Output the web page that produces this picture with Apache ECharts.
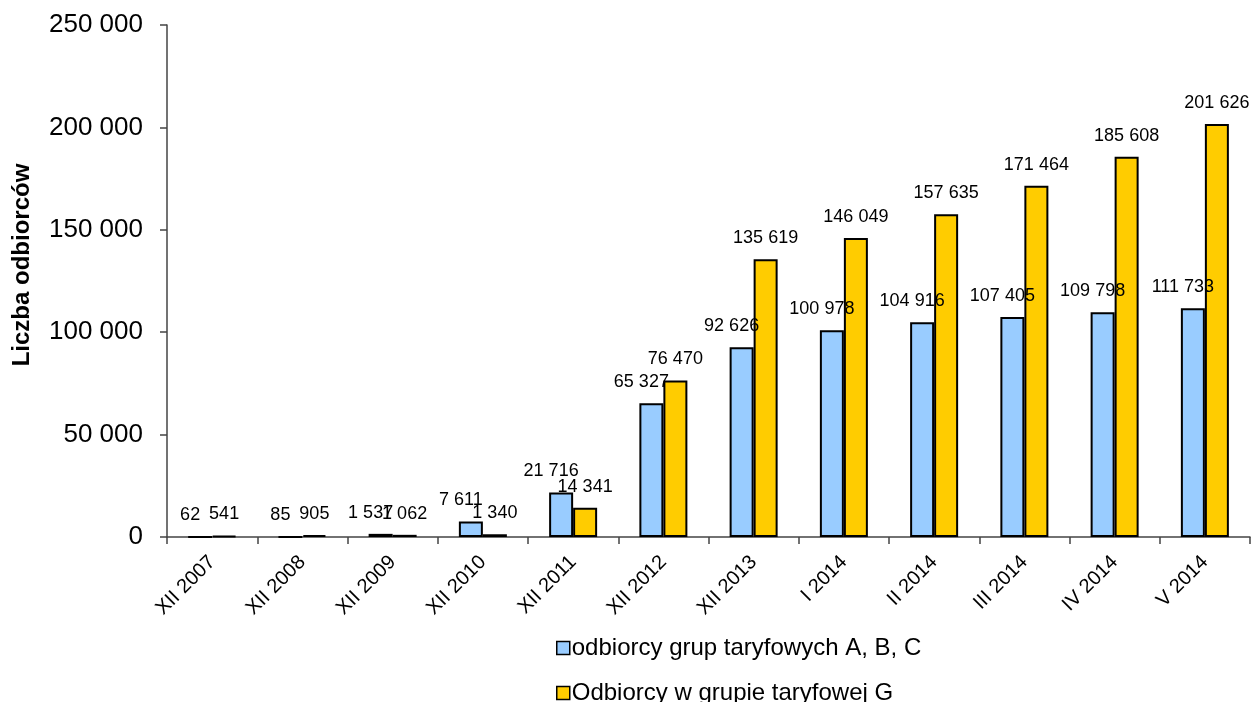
<!DOCTYPE html>
<html>
<head>
<meta charset="utf-8">
<script src="https://cdn.jsdelivr.net/npm/echarts@6/dist/echarts.min.js"></script>
<style>
html,body{margin:0;padding:0;background:#fff;}
#chart{width:1252px;height:702px;}
</style>
</head>
<body>
<div id="chart"></div>
<script>
const categories = ['XII 2007','XII 2008','XII 2009','XII 2010','XII 2011','XII 2012','XII 2013','I 2014','II 2014','III 2014','IV 2014','V 2014'];
const seriesABC = [62, 85, 1537, 7611, 21716, 65327, 92626, 100978, 104916, 107405, 109798, 111733];
const seriesG = [541, 905, 1062, 1340, 14341, 76470, 135619, 146049, 157635, 171464, 185608, 201626];
const nameABC = 'odbiorcy grup taryfowych A, B, C';
const nameG = 'Odbiorcy w grupie taryfowej G';
const yTitle = 'Liczba odbiorców';

function fmt(v){
  return String(Math.round(v)).replace(/\B(?=(\d{3})+(?!\d))/g, ' ');
}
const FONT = '"Liberation Sans", Arial, sans-serif';
const legendText = {fontFamily: FONT, fontSize: 24, color: '#000', padding: [0,0,0,-3]};

const chart = echarts.init(document.getElementById('chart'));
chart.setOption({
  backgroundColor: '#fff',
  animation: false,
  textStyle: {fontFamily: FONT},
  grid: {left: 167, top: 25, right: 2, bottom: 165, containLabel: false},
  legend: [
    {
      left: 551, top: 631,
      itemWidth: 13, itemHeight: 13,
      icon: 'rect',
      itemStyle: {borderColor: '#000', borderWidth: 1.5},
      textStyle: legendText,
      data: [nameABC]
    },
    {
      left: 551, top: 676,
      itemWidth: 13, itemHeight: 13,
      icon: 'rect',
      itemStyle: {borderColor: '#000', borderWidth: 1.5},
      textStyle: legendText,
      data: [nameG]
    }
  ],
  xAxis: {
    type: 'category',
    data: categories,
    axisLine: {lineStyle: {color: '#444', width: 1.5}},
    axisTick: {show: true, length: 7, alignWithLabel: false, lineStyle: {color: '#444', width: 1.5}},
    axisLabel: {rotate: 45, fontSize: 20, color: '#000', fontFamily: FONT, margin: 22, interval: 0}
  },
  yAxis: {
    type: 'value',
    min: 0,
    max: 250000,
    interval: 50000,
    name: yTitle,
    nameLocation: 'middle',
    nameGap: 133,
    nameRotate: 90,
    nameTextStyle: {fontFamily: FONT, fontSize: 24, fontWeight: 'bold', color: '#000', padding: [0,0,0,32]},
    splitLine: {show: false},
    axisLine: {show: true, lineStyle: {color: '#444', width: 1.5}},
    axisTick: {show: true, length: 7, lineStyle: {color: '#444', width: 1.5}},
    axisLabel: {fontSize: 26, color: '#000', fontFamily: FONT, margin: 24, formatter: v => fmt(v)}
  },
  series: [
    {
      name: nameABC,
      type: 'bar',
      data: seriesABC,
      barWidth: 24,
      barGap: '0%',
      itemStyle: {color: '#99CCFF', borderColor: '#000', borderWidth: 2},
      label: {show: true, position: 'top', distance: 12, offset: [-10, 0], fontSize: 18, color: '#000', fontFamily: FONT, formatter: p => fmt(p.value)}
    },
    {
      name: nameG,
      type: 'bar',
      data: seriesG,
      barWidth: 24,
      barGap: '0%',
      itemStyle: {color: '#FFCC00', borderColor: '#000', borderWidth: 2},
      label: {show: true, position: 'top', distance: 12, fontSize: 18, color: '#000', fontFamily: FONT, formatter: p => fmt(p.value)}
    }
  ]
});
</script>
</body>
</html>
